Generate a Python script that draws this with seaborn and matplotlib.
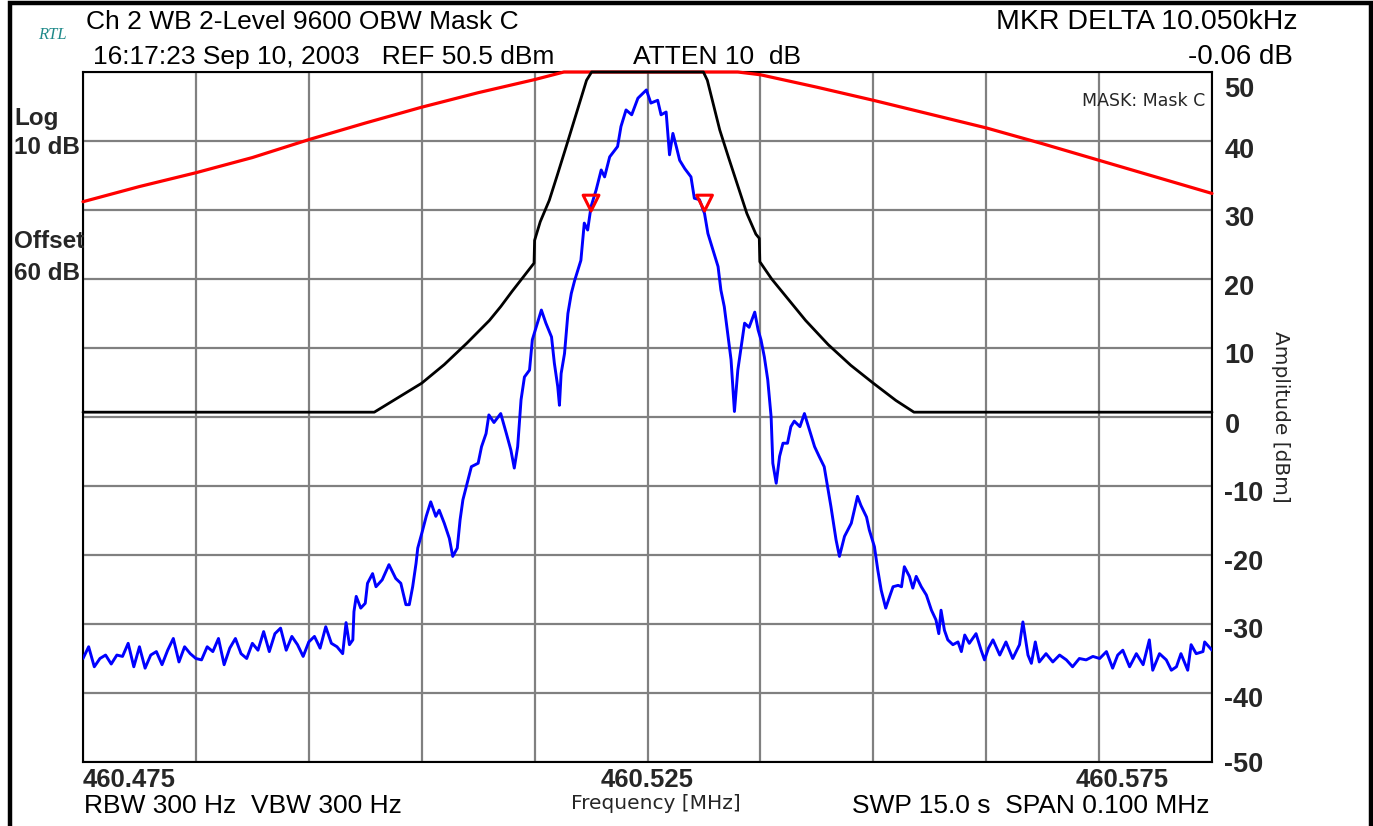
import numpy as np
import pandas as pd
import matplotlib
matplotlib.use("Agg")
import matplotlib.pyplot as plt
import matplotlib.transforms as mtransforms
from matplotlib.patches import Rectangle
import seaborn as sns

# centre frequency of the sweep, everything else is offset in kHz
CENTER_MHZ = 460.525

# measured spectrum (blue)
trace_khz = [-50, -49.5, -49, -48.5, -48, -47.5, -47, -46.5, -46, -45.5, -45, -44.5, -44, -43.5, -43,
             -42.5, -42, -41.5, -41, -40.5, -40, -39.5, -39, -38.5, -38, -37.5, -37, -36.5, -36, -35.5,
             -35, -34.5, -34, -33.5, -33, -32.5, -32, -31.5, -31, -30.5, -30, -29.5, -29, -28.5, -28,
             -27.5, -27, -26.7, -26.4, -26.1, -26.0, -25.8, -25.4, -25.0, -24.8, -24.35, -24.05, -23.5,
             -22.9, -22.3, -21.85, -21.4, -21.1, -20.8, -20.5, -20.35, -19.95, -19.6, -19.2, -18.75,
             -18.45, -18.0, -17.55, -17.25, -16.85, -16.6, -16.35, -15.9, -15.6, -15.0, -14.7, -14.3,
             -14.05, -13.6, -13.0, -12.5, -12.1, -11.8, -11.5, -11.2, -10.9, -10.45, -10.2, -9.85, -9.4,
             -9.0, -8.5, -8.25, -7.95, -7.8, -7.65, -7.35, -7.05, -6.75, -6.45, -5.9, -5.6, -5.3, -5.0,
             -4.55, -4.1, -3.8, -3.35, -2.65, -2.35, -1.9, -1.4, -0.85, -0.1, 0.3, 0.9, 1.2, 1.65, 1.95,
             2.25, 2.55, 2.85, 3.3, 3.85, 4.15, 4.6, 5.05, 5.35, 5.8, 6.25, 6.5, 6.8, 7.1, 7.4, 7.7, 8.0,
             8.3, 8.6, 9.0, 9.5, 9.8, 10.05, 10.35, 10.65, 10.95, 11.1, 11.4, 11.7, 12.0, 12.4, 12.7,
             13.0, 13.5, 13.9, 14.35, 14.8, 15.2, 15.65, 15.95, 16.25, 16.7, 17.0, 17.45, 18.05, 18.6,
             18.9, 19.4, 19.65, 20.1, 20.4, 20.7, 21.1, 21.45, 21.75, 22.2, 22.5, 22.75, 23.2, 23.5,
             23.8, 24.25, 24.7, 25.15, 25.55, 25.8, 26.0, 26.3, 26.6, 27.05, 27.5, 27.8, 28.1, 28.5,
             29.1, 29.55, 29.85, 30.2, 30.6, 31.2, 31.75, 32.35, 32.95, 33.25, 33.7, 34.0, 34.35, 34.7,
             35.3, 35.9, 36.5, 37.1, 37.65, 38.25, 38.85, 39.45, 40.05, 40.65, 41.2, 41.65, 42.1, 42.7,
             43.3, 43.9, 44.45, 44.75, 45.35, 45.95, 46.4, 46.85, 47.25, 47.85, 48.15, 48.6, 49.2,
             49.35, 50.0]
trace_dbm = [-35.0, -33.3, -36.2, -35.0, -34.5, -35.8, -34.5, -34.7, -32.8, -36.2, -33.3, -36.4, -34.5,
             -34.0, -35.9, -33.8, -32.1, -35.5, -33.3, -34.3, -35.0, -35.2, -33.3, -34.0, -32.1, -35.9,
             -33.5, -32.1, -34.3, -35.0, -32.8, -33.8, -31.1, -34.0, -31.4, -30.6, -33.8, -31.8, -33.0,
             -34.7, -32.6, -31.8, -33.5, -30.4, -32.8, -33.3, -34.3, -29.8, -33.0, -32.3, -28.2, -26.0,
             -27.7, -27.0, -24.1, -22.7, -24.6, -23.6, -21.4, -23.4, -24.1, -27.2, -27.2, -24.6, -21.2,
             -19.0, -16.6, -14.4, -12.3, -14.4, -13.5, -15.4, -17.6, -20.2, -19.0, -14.9, -12.0, -9.1,
             -7.2, -6.7, -4.3, -2.4, 0.3, -0.8, 0.5, -2.4, -4.8, -7.4, -4.3, 2.5, 5.8, 6.8, 11.2, 13.1,
             15.5, 13.6, 11.6, 7.8, 4.4, 1.7, 6.3, 9.2, 15.0, 17.9, 19.8, 22.7, 28.1, 27.1, 30.5, 32.9,
             35.8, 34.8, 37.7, 39.2, 42.1, 44.5, 43.8, 46.2, 47.4, 45.5, 45.9, 43.8, 44.2, 38.0, 41.1,
             39.2, 37.2, 36.0, 34.8, 31.7, 31.5, 29.5, 26.6, 24.2, 21.8, 18.4, 16.0, 12.1, 8.3, 0.8, 6.8,
             10.2, 13.6, 13.0, 15.2, 12.6, 11.2, 8.7, 5.4, 0.0, -6.7, -9.6, -5.7, -3.8, -3.8, -1.4, -0.6,
             -1.4, 0.5, -1.9, -4.3, -5.7, -7.2, -10.1, -13.0, -17.8, -20.2, -17.3, -15.4, -11.5, -12.8,
             -14.5, -16.4, -18.8, -22.2, -25.1, -27.7, -26.0, -24.6, -24.4, -24.6, -21.7, -23.1, -24.8,
             -23.1, -24.6, -25.8, -28.0, -29.4, -31.4, -28.0, -30.9, -32.3, -33.0, -32.6, -34.0, -31.6,
             -32.8, -31.4, -33.8, -35.2, -33.5, -32.3, -34.5, -32.6, -35.0, -33.0, -29.7, -34.5, -35.7,
             -32.6, -35.5, -34.3, -35.5, -34.5, -35.2, -36.2, -35.0, -35.2, -34.7, -35.0, -34.0, -36.4,
             -34.5, -33.8, -36.2, -34.3, -35.9, -32.3, -36.7, -34.3, -35.2, -36.7, -36.2, -34.3, -36.7,
             -33.0, -34.3, -34.0, -32.6, -33.8]

# emission mask C (black)
mask_khz = [-50, -24.2, -23, -22, -20, -18, -16, -14, -13, -12, -11, -10.05, -10.0, -9.5, -8.7, -8.0,
            -7.2, -6.3, -5.4, -4.95, 4.95, 5.3, 6.4, 7.2, 8.0, 8.8, 9.6, 9.9, 9.95, 11, 12, 13, 14, 16,
            18, 20, 22, 23.6, 50]
mask_dbm = [0.7, 0.7, 1.9, 2.9, 4.9, 7.6, 10.7, 14.0, 16.0, 18.2, 20.3, 22.3, 25.6, 28.3, 31.4, 35.0,
            39.2, 44.0, 48.8, 50.0, 50.0, 48.8, 41.6, 37.5, 33.5, 29.5, 26.5, 25.9, 22.5, 20.0, 18.0,
            16.0, 14.0, 10.5, 7.5, 4.9, 2.4, 0.7, 0.7]

# upper limit line (red)
limit_khz = [-50, -45, -40, -35, -30, -25, -20, -15, -10, -7.4, 8.0, 10, 15, 20, 25, 30, 35, 40, 45, 50]
limit_dbm = [31.2, 33.4, 35.4, 37.6, 40.2, 42.6, 44.9, 47.0, 48.9, 50.0, 50.0, 49.6, 47.8, 45.9, 43.9,
             41.9, 39.6, 37.2, 34.8, 32.4]

# OBW markers
marker_khz = [-5.0, 5.05]
marker_dbm = [31.0, 31.0]

ytick_vals = [50, 40, 30, 20, 10, 0, -10, -20, -30, -40, -50]
xtick_vals = [460.475, 460.525, 460.575]
xtick_labels = ["460.475", "460.525", "460.575"]


def to_df(khz, dbm):
    return pd.DataFrame({"freq": CENTER_MHZ + np.array(khz) / 1000.0, "level": dbm})


sns.set_theme(style="white")
plt.rcParams["font.family"] = ["Liberation Sans", "DejaVu Sans"]

W, H = 1373, 826
fig = plt.figure(figsize=(W / 100, H / 100), dpi=100)
fig.patch.set_facecolor("white")
ax = fig.add_axes([83 / W, 1 - 762 / H, (1212 - 83) / W, (762 - 72) / H])


def px(x, y):
    return x / W, 1 - y / H


sns.lineplot(data=to_df(trace_khz, trace_dbm), x="freq", y="level", color="#0000ff", lw=2.1,
             estimator=None, sort=False, ax=ax, zorder=3)
sns.lineplot(data=to_df(limit_khz, limit_dbm), x="freq", y="level", color="#ff0000", lw=2.3,
             estimator=None, sort=False, ax=ax, zorder=4, clip_on=False)
sns.lineplot(data=to_df(mask_khz, mask_dbm), x="freq", y="level", color="black", lw=2.0,
             estimator=None, sort=False, ax=ax, zorder=5, clip_on=False)
sns.scatterplot(data=to_df(marker_khz, marker_dbm), x="freq", y="level", marker="v", s=130,
                facecolor="none", edgecolor="#ff0000", linewidth=2.2, ax=ax, zorder=6)

ax.set_xlim(460.475, 460.575)
ax.set_ylim(-50, 50)

# 10 x 10 graticule on the minor ticks
ax.xaxis.remove_overlapping_locs = False
ax.yaxis.remove_overlapping_locs = False
ax.set_xticks(np.linspace(460.475, 460.575, 11), minor=True)
ax.set_yticks(ytick_vals, minor=True)
ax.grid(False, which="major")
ax.grid(True, which="minor", color="#808080", lw=1.6)
ax.set_axisbelow(True)
for s in ax.spines.values():
    s.set_color("black")
    s.set_linewidth(1.5)
    s.set_visible(True)

ax.yaxis.tick_right()
ax.yaxis.set_label_position("right")
ax.set_yticks(ytick_vals, [str(v) for v in ytick_vals])
ax.set_xticks(xtick_vals, xtick_labels)
ax.tick_params(which="both", length=0)
ax.tick_params(axis="y", pad=9, labelsize=19.5)
ax.tick_params(axis="x", pad=4, labelsize=18.5)
for lab in ax.get_yticklabels() + ax.get_xticklabels():
    lab.set_fontweight("bold")

ax.set_xlabel("Frequency [MHz]", family="DejaVu Sans", fontsize=14.5, labelpad=2)
ax.set_ylabel("Amplitude [dBm]", family="DejaVu Sans", fontsize=14.5, rotation=-90,
              labelpad=5, va="bottom")
ax.xaxis.label.set_x(0.507)

# shift the labels the way the analyzer printed them
y_off = [15, 7, 6, 6, 5, 6, 5, 5, 4, 4, 0]
for lab, d in zip(ax.get_yticklabels(), y_off):
    lab.set_transform(lab.get_transform() + mtransforms.ScaledTranslation(0, -d / 100, fig.dpi_scale_trans))
xl = ax.get_xticklabels()
xl[0].set_horizontalalignment("left")
xl[2].set_horizontalalignment("right")
xl[2].set_transform(xl[2].get_transform() + mtransforms.ScaledTranslation(-43 / 100, 0, fig.dpi_scale_trans))

# analyzer annotations
hdr = dict(fontsize=19, color="black", va="center")
fig.text(*px(86, 22), "Ch 2 WB 2-Level 9600 OBW Mask C", ha="left", **hdr)
fig.text(*px(93, 57), "16:17:23 Sep 10, 2003   REF 50.5 dBm", ha="left", **hdr)
fig.text(*px(633, 57), "ATTEN 10  dB", ha="left", **hdr)
fig.text(*px(84, 806), "RBW 300 Hz  VBW 300 Hz", ha="left", **hdr)
fig.text(*px(1210, 806), "SWP 15.0 s  SPAN 0.100 MHz", ha="right", **hdr)
fig.text(*px(1297, 22), "MKR DELTA 10.050kHz", ha="right", **dict(hdr, fontsize=20.5))
fig.text(*px(1293, 57), "-0.06 dB", ha="right", **dict(hdr, fontsize=20))
fig.text(*px(38, 35), "RTL", ha="left", va="center", fontsize=12, style="italic",
         family="Liberation Serif", color="#1f8a8a")

side = dict(fontsize=17.5, fontweight="bold", ha="left", va="center")
fig.text(*px(14, 118), "Log", **side)
fig.text(*px(14, 148), "10 dB", **side)
fig.text(*px(14, 242), "Offset", **side)
fig.text(*px(14, 273), "60 dB", **side)

ax.text(0.994, 0.958, "MASK: Mask C", transform=ax.transAxes, ha="right", va="center",
        fontsize=12.5, family="DejaVu Sans")

# outer frame of the screen capture
fig.add_artist(Rectangle((10 / W, -0.05), (1371 - 10) / W, 1.05 - 2.5 / H, transform=fig.transFigure,
                         fill=False, edgecolor="black", lw=3.2))

fig.savefig("out.png", dpi=100)
